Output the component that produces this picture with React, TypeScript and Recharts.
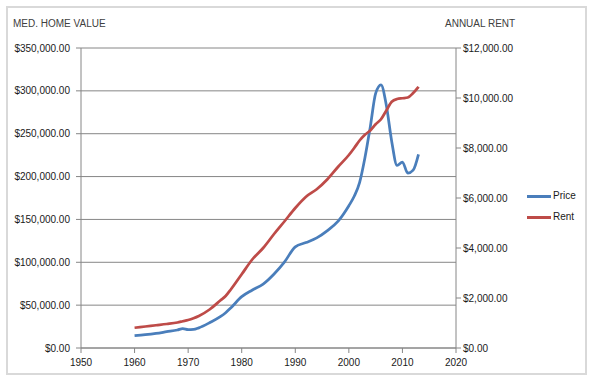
import {
  LineChart,
  Line,
  XAxis,
  YAxis,
  CartesianGrid,
} from "recharts";

const years = [
  1960, 1962, 1964, 1966, 1968, 1969, 1970, 1971, 1972, 1974, 1976, 1977,
  1978, 1980, 1982, 1984, 1986, 1988, 1990, 1992, 1994, 1996, 1998, 2000,
  2001, 2002, 2003, 2004, 2005, 2006, 2007, 2008, 2009, 2010, 2011, 2012,
  2013,
];

const priceValues = [
  14400, 15500, 17000, 19000, 21000, 22600, 21400, 21600, 23500, 29500,
  36500, 41200, 47000, 59900, 67700, 74500, 86000, 100500, 118000, 123000,
  128500, 137000, 148000, 166000, 177000, 193000, 222000, 258000, 297000,
  307000, 283000, 241000, 213000, 217000, 204000, 207500, 226000,
];

const rentValues = [
  810, 860, 910, 960, 1020, 1070, 1120, 1190, 1280, 1540, 1900, 2080, 2350,
  2950, 3550, 4000, 4550, 5070, 5600, 6050, 6350, 6750, 7250, 7720, 8000,
  8300, 8530, 8700, 8950, 9150, 9500, 9850, 9960, 9990, 10020, 10200, 10450,
];

const xTicks = [1950, 1960, 1970, 1980, 1990, 2000, 2010, 2020];
const leftTicks = [0, 50000, 100000, 150000, 200000, 250000, 300000, 350000];
const rightTicks = [0, 2000, 4000, 6000, 8000, 10000, 12000];

const data = years.map((year, i) => ({
  year,
  price: priceValues[i],
  rent: rentValues[i],
}));

const BLUE = "#4A7EBB";
const RED = "#BE4B48";
const AXIS = "#868686";
const FONT = "'Liberation Sans', Arial, sans-serif";

const money = (v: number) =>
  "$" +
  v.toLocaleString("en-US", {
    minimumFractionDigits: 2,
    maximumFractionDigits: 2,
  });

const tickStyle = { fontSize: 10, fill: "#1a1a1a", fontFamily: FONT };

export default function App() {
  return (
    <div
      style={{
        position: "absolute",
        left: 0,
        top: 0,
        width: 593,
        height: 388,
        background: "#fff",
        fontFamily: FONT,
      }}
    >
      <div
        style={{
          position: "absolute",
          left: 6,
          top: 6,
          width: 581,
          height: 369,
          boxSizing: "border-box",
          border: "2px solid #d9d9d9",
        }}
      />
      <div
        style={{
          position: "absolute",
          left: 13,
          top: 18,
          fontSize: 10,
          lineHeight: "12px",
          color: "#404040",
        }}
      >
        MED. HOME VALUE
      </div>
      <div
        style={{
          position: "absolute",
          left: 445,
          top: 18,
          fontSize: 10,
          lineHeight: "12px",
          color: "#404040",
        }}
      >
        ANNUAL RENT
      </div>

      <div style={{ position: "absolute", left: 0, top: 0 }}>
        <LineChart
          width={593}
          height={388}
          data={data}
          margin={{ top: 48, right: 67, bottom: 10, left: 0 }}
        >
          <CartesianGrid
            yAxisId="left"
            vertical={false}
            stroke={AXIS}
            ticks={leftTicks}
          />
          <XAxis
            dataKey="year"
            type="number"
            domain={[1950, 2020]}
            ticks={xTicks}
            height={30}
            tickSize={5}
            tickMargin={6}
            stroke={AXIS}
            tick={tickStyle}
          />
          <YAxis
            yAxisId="left"
            orientation="left"
            width={81}
            domain={[0, 350000]}
            ticks={leftTicks}
            tickFormatter={money}
            tickSize={5}
            tickMargin={6}
            stroke={AXIS}
            tick={tickStyle}
            interval={0}
          />
          <YAxis
            yAxisId="right"
            orientation="right"
            width={70}
            domain={[0, 12000]}
            ticks={rightTicks}
            tickFormatter={money}
            tickSize={5}
            tickMargin={2}
            stroke={AXIS}
            tick={tickStyle}
            interval={0}
          />
          <Line
            yAxisId="left"
            type="monotone"
            dataKey="price"
            name="Price"
            stroke={BLUE}
            strokeWidth={2.75}
            dot={false}
            isAnimationActive={false}
          />
          <Line
            yAxisId="right"
            type="monotone"
            dataKey="rent"
            name="Rent"
            stroke={RED}
            strokeWidth={2.75}
            dot={false}
            isAnimationActive={false}
          />
        </LineChart>
      </div>

      {[
        { label: "Price", color: BLUE, y: 196 },
        { label: "Rent", color: RED, y: 217 },
      ].map((item) => (
        <div key={item.label}>
          <div
            style={{
              position: "absolute",
              left: 527,
              top: item.y - 1.5,
              width: 24,
              height: 3,
              background: item.color,
            }}
          />
          <div
            style={{
              position: "absolute",
              left: 553,
              top: item.y - 6,
              fontSize: 10,
              lineHeight: "12px",
              color: "#1a1a1a",
            }}
          >
            {item.label}
          </div>
        </div>
      ))}
    </div>
  );
}
